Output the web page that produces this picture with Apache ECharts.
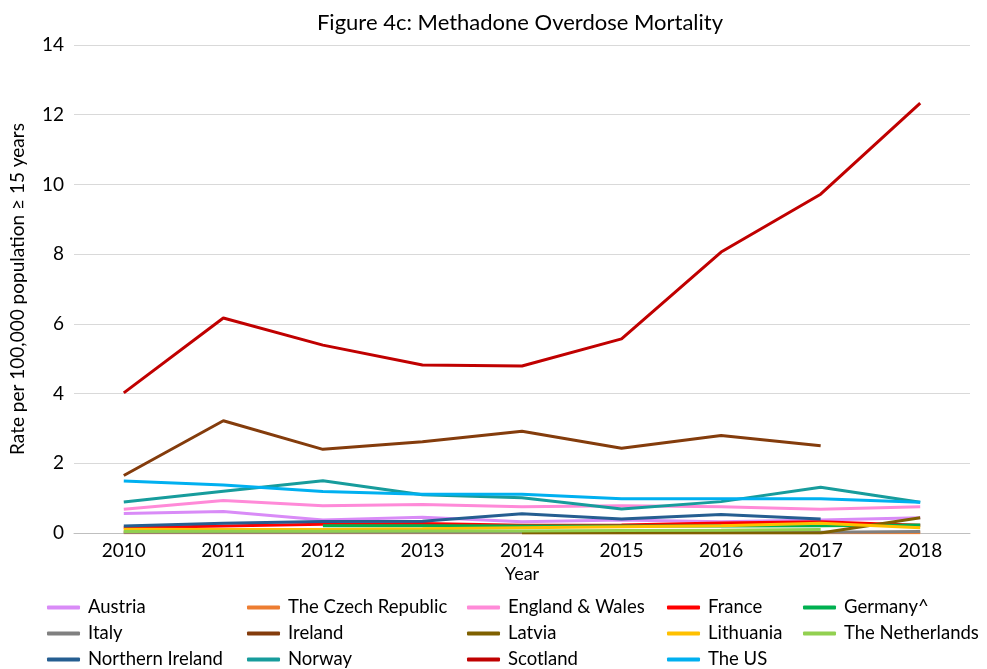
<!DOCTYPE html>
<html>
<head>
<meta charset="utf-8">
<script src="https://cdn.jsdelivr.net/npm/echarts@6/dist/echarts.min.js"></script>
<style>
  html, body { margin: 0; padding: 0; background: #fff; }
  #chart { width: 987px; height: 669px; }
</style>
</head>
<body>
<div id="chart"></div>
<script>
var years = ['2010', '2011', '2012', '2013', '2014', '2015', '2016', '2017', '2018'];

var austria     = [0.56, 0.62, 0.37, 0.45, 0.32, 0.37, 0.32, 0.37, 0.44];
var czech       = [0.01, 0.01, 0.01, 0.01, 0.01, 0.01, 0.01, 0.01, 0.01];
var england     = [0.68, 0.93, 0.78, 0.82, 0.75, 0.78, 0.75, 0.68, 0.75];
var france      = [0.15, 0.20, 0.25, 0.27, 0.22, 0.23, 0.29, 0.32, 0.22];
var germany     = [null, null, 0.21, 0.21, 0.20, 0.20, 0.20, 0.21, 0.23];
var italy       = [0.02, 0.02, 0.02, 0.02, 0.02, 0.02, 0.02, 0.02, 0.04];
var ireland     = [1.65, 3.22, 2.40, 2.62, 2.92, 2.43, 2.80, 2.50, null];
var latvia      = [null, null, null, null, 0.00, 0.00, 0.00, 0.00, 0.44];
var lithuania   = [0.11, 0.10, 0.10, 0.12, 0.15, 0.18, 0.21, 0.28, 0.15];
var netherlands = [0.04, 0.05, 0.05, 0.06, 0.06, 0.07, 0.08, 0.10, null];
var nIreland    = [0.20, 0.28, 0.33, 0.34, 0.55, 0.40, 0.53, 0.40, null];
var norway      = [0.89, 1.20, 1.50, 1.10, 1.01, 0.69, 0.90, 1.31, 0.88];
var scotland    = [4.02, 6.17, 5.39, 4.82, 4.79, 5.57, 8.06, 9.72, 12.33];
var theUS       = [1.49, 1.38, 1.19, 1.11, 1.11, 0.98, 0.98, 0.98, 0.88];

var seriesList = [
  ['Austria', austria, '#D98BF7'],
  ['The Czech Republic', czech, '#ED7D31'],
  ['England & Wales', england, '#FF8AD8'],
  ['France', france, '#FF0000'],
  ['Germany^', germany, '#00B050'],
  ['Italy', italy, '#808080'],
  ['Ireland', ireland, '#843C0C'],
  ['Latvia', latvia, '#7F6000'],
  ['Lithuania', lithuania, '#FFC000'],
  ['The Netherlands', netherlands, '#92D050'],
  ['Northern Ireland', nIreland, '#255E91'],
  ['Norway', norway, '#179C9C'],
  ['Scotland', scotland, '#C00000'],
  ['The US', theUS, '#00B0F0']
];

// legend grid: 5 columns, 3 rows (Excel style)
var legendLeft = [47, 247, 467, 667, 803];
var legendTop = [598, 624, 650];

var font = 'Lato, "Liberation Sans", sans-serif';
var myChart = echarts.init(document.getElementById('chart'));

var legends = seriesList.map(function (s, i) {
  return {
    left: legendLeft[i % 5],
    top: legendTop[Math.floor(i / 5)],
    padding: 0,
    itemGap: 0,
    itemWidth: 33,
    itemHeight: 4,
    icon: 'roundRect',
    data: [s[0]],
    textStyle: { fontFamily: font, fontSize: 18.5, color: '#000', padding: [0, 0, 0, 3] }
  };
});

var option = {
  backgroundColor: '#fff',
  animation: false,
  textStyle: { fontFamily: font },
  title: {
    text: 'Figure 4c: Methadone Overdose Mortality',
    left: 515,
    top: 7,
    textAlign: 'center',
    textStyle: { fontFamily: font, fontSize: 22, fontWeight: 'normal', color: '#000' }
  },
  legend: legends,
  grid: { left: 67, right: 17, top: 45, bottom: 136 },
  xAxis: {
    type: 'category',
    data: years,
    boundaryGap: true,
    name: 'Year',
    nameLocation: 'middle',
    nameGap: 32,
    nameTextStyle: { fontFamily: font, fontSize: 18, color: '#000' },
    axisLine: { lineStyle: { color: '#BFBFBF' } },
    axisTick: { show: false },
    axisLabel: { fontFamily: font, fontSize: 19, color: '#000', margin: 8 }
  },
  yAxis: {
    type: 'value',
    min: 0,
    max: 14,
    interval: 2,
    name: 'Rate per 100,000 population \u2265 15 years',
    nameLocation: 'middle',
    nameGap: 47,
    nameTextStyle: { fontFamily: font, fontSize: 19, color: '#000' },
    axisLine: { show: false },
    axisTick: { show: false },
    axisLabel: { fontFamily: font, fontSize: 19, color: '#000', margin: 10 },
    splitLine: { lineStyle: { color: '#D9D9D9' } }
  },
  series: seriesList.map(function (s) {
    return {
      name: s[0],
      type: 'line',
      data: s[1],
      smooth: false,
      symbol: 'none',
      connectNulls: false,
      lineStyle: { width: 3, color: s[2] },
      itemStyle: { color: s[2] }
    };
  })
};

myChart.setOption(option);
window.addEventListener('resize', function () {
  myChart.resize();
});
</script>
</body>
</html>
